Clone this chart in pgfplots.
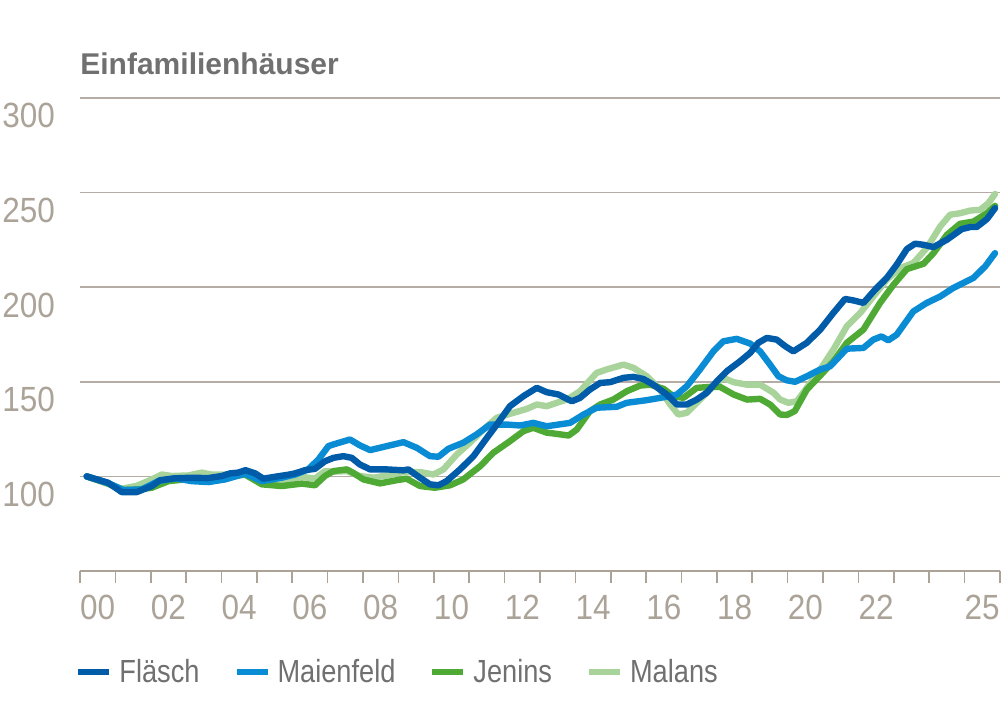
\documentclass[border=0pt]{standalone}
\usepackage{fontspec}
\setmainfont{Liberation Sans}
\newfontfamily\tickfont{Liberation Sans}[FakeStretch=0.9]
\newfontfamily\legfont{Liberation Sans}[FakeStretch=0.85]
\usepackage{pgfplots}
\pgfplotsset{compat=1.18}

\definecolor{flaesch}{HTML}{005BA8}
\definecolor{maienfeld}{HTML}{0A8CD4}
\definecolor{jenins}{HTML}{4EAA35}
\definecolor{malans}{HTML}{A8D49C}
\definecolor{gridc}{HTML}{B5ADA5}
\definecolor{tickc}{HTML}{ABA398}
\definecolor{textc}{HTML}{707070}

\begin{document}
\begin{tikzpicture}
\begin{axis}[
    scale only axis,
    width=460pt, height=236.5pt,
    xmin=2000, xmax=2026,
    ymin=50, ymax=300,
    axis x line*=bottom,
    axis y line*=left,
    x axis line style={-, draw=tickc, line width=1pt},
    y axis line style={draw=none},
    xtick={2000,...,2026},
    x tick label as interval,
    xticklabels={00,,02,,04,,06,,08,,10,,12,,14,,16,,18,,20,,22,,,25},
    tick align=outside,
    major tick length=6pt,
    x tick style={draw=tickc, line width=0.8pt},
    xticklabel style={font=\tickfont\fontsize{17.5}{20}\selectfont, text=tickc, anchor=north, inner sep=0pt, yshift=-6pt},
    ytick={100,150,200,250,300},
    ymajorgrids,
    grid style={draw=gridc, line width=0.7pt},
    y tick style={draw=none},
    /pgf/number format/assume math mode=true,
    yticklabel style={font=\tickfont\fontsize{17.5}{20}\selectfont, text=tickc, anchor=north west, inner sep=0pt, xshift=-33pt, yshift=-2.5pt},
    title={Einfamilienhäuser},
    title style={at={(0,1)}, anchor=base west, inner sep=0pt, yshift=5.5pt, font=\bfseries\fontsize{15}{18}\selectfont, text=textc},
    every axis plot/.append style={line width=3.2pt, line join=round, line cap=round},
    legend columns=4,
    reverse legend,
    legend style={at={(0,0)}, anchor=west, yshift=-50.5pt, xshift=-2.5pt, draw=none, fill=none, inner sep=0pt,
        font=\legfont\fontsize{16}{19}\selectfont, text=textc,
        /tikz/every odd column/.append style={column sep=3.5pt},
        /tikz/every even column/.append style={column sep=17pt},
        nodes={inner sep=0pt, outer sep=0pt, text=textc}},
    legend image code/.code={\draw[line width=3pt, line cap=butt] (0pt,0pt) -- (15.5pt,0pt);},
]
% Malans
\addplot[malans] coordinates {
(2000.19,100) (2000.79,96) (2001.18,93.5) (2001.60,95) (2002.03,98.4) (2002.31,101) (2002.60,100.2)
(2003.06,100.5) (2003.44,102) (2003.72,101) (2004.19,101) (2004.66,102.3) (2005.14,97.5) (2005.70,97.8)
(2006.27,99.8) (2006.64,98.8) (2006.92,102.8) (2007.16,102.5) (2007.54,102.8) (2007.91,100.2) (2008.29,99.3)
(2008.67,100.5) (2009.14,102.3) (2009.61,102.3) (2009.99,101) (2010.27,103.7) (2010.65,111.6) (2011.02,117.8)
(2011.40,124.8) (2011.78,131) (2012.25,133.6) (2012.63,135.7) (2012.91,138) (2013.19,137.1) (2013.52,139.2)
(2013.76,140.6) (2014.13,145) (2014.60,154.7) (2014.88,156.5) (2015.36,159.1) (2015.64,157.4) (2016.02,152.9)
(2016.39,145.9) (2016.68,138) (2016.91,132.7) (2017.15,133.6) (2017.52,140.6) (2017.90,147.7) (2018.18,152.1)
(2018.47,149.8) (2018.84,148.5) (2019.22,148.5) (2019.60,144.2) (2019.79,140.6) (2020.02,138.9) (2020.26,139.7)
(2020.54,146.8) (2020.92,156.5) (2021.29,167) (2021.67,179.3) (2022.05,186.4) (2022.42,195.1) (2022.80,204)
(2023.18,210.1) (2023.55,212.8) (2023.93,220.7) (2024.31,232.1) (2024.59,238.3) (2024.87,239.1) (2025.16,240.5)
(2025.44,240.9) (2025.67,244.4) (2025.86,249.3)
};
\addlegendentry{Malans}
% Jenins
\addplot[jenins] coordinates {
(2000.19,100) (2000.79,96.3) (2001.18,92.9) (2001.60,93) (2002.03,94) (2002.50,97.5) (2002.97,98.4)
(2003.40,98.5) (2003.90,98.8) (2004.30,100) (2004.66,101) (2005.14,95.8) (2005.70,94.9) (2006.27,96.2)
(2006.64,95.3) (2006.92,100.2) (2007.16,102.8) (2007.54,103.7) (2007.72,101.9) (2008.01,98.4) (2008.48,96.3)
(2008.95,98) (2009.23,98.8) (2009.61,94.9) (2010.03,94) (2010.46,95.3) (2010.83,98.4) (2011.31,105.4)
(2011.68,112.5) (2012.15,118.6) (2012.53,123.9) (2012.81,125.7) (2013.19,123.1) (2013.38,122.7) (2013.81,121.6)
(2014.04,124.8) (2014.41,134.5) (2014.70,138) (2015.07,140.6) (2015.45,145) (2015.83,148) (2016.11,148.5)
(2016.49,146.3) (2016.77,142.4) (2017.05,141.5) (2017.43,146.8) (2017.80,147.3) (2018.09,147.3) (2018.47,143.3)
(2018.85,140.6) (2019.22,141) (2019.50,138) (2019.79,132.7) (2019.98,132.5) (2020.20,134.5) (2020.54,145.9)
(2020.92,153.3) (2021.29,160.8) (2021.67,170.6) (2022.14,177.6) (2022.61,191.7) (2022.99,201.3) (2023.37,209.6)
(2023.84,212.4) (2024.12,218) (2024.50,227.7) (2024.87,233.5) (2025.25,234.7) (2025.63,239.1) (2025.86,243)
};
\addlegendentry{Jenins}
% Maienfeld
\addplot[maienfeld] coordinates {
(2000.19,100) (2000.79,96.5) (2001.23,92.8) (2001.74,93.1) (2002.21,97.5) (2002.69,99) (2003.16,97.5)
(2003.63,97) (2004.10,98.4) (2004.66,101.4) (2005.14,97.5) (2005.70,99.3) (2006.08,101) (2006.45,103.7)
(2006.74,109) (2007.02,116) (2007.16,116.9) (2007.63,119.5) (2007.91,116.4) (2008.20,113.9) (2008.67,116)
(2009.14,118.1) (2009.52,115.1) (2009.89,110.7) (2010.13,110.4) (2010.41,114.6) (2010.83,117.8) (2011.21,122.2)
(2011.59,127.4) (2012.06,127.4) (2012.44,126.9) (2012.81,128.3) (2013.19,126.5) (2013.85,128.3) (2014.23,132.7)
(2014.60,136.3) (2015.17,136.8) (2015.45,138.9) (2016.02,140.3) (2016.58,142.1) (2016.87,143.3) (2017.15,147.7)
(2017.52,156.5) (2017.90,166.1) (2018.18,171.4) (2018.56,172.7) (2018.94,170.2) (2019.22,166.1) (2019.50,159.1)
(2019.74,152.9) (2019.97,150.8) (2020.21,150) (2020.54,152.9) (2020.92,156.5) (2021.20,158.2) (2021.67,167.5)
(2022.14,167.9) (2022.42,172.3) (2022.65,174) (2022.84,171.9) (2023.08,174.9) (2023.55,187.2) (2023.93,191.7)
(2024.31,195.1) (2024.68,199.6) (2025.25,204.9) (2025.58,211) (2025.86,218)
};
\addlegendentry{Maienfeld}
% Flaesch
\addplot[flaesch] coordinates {
(2000.19,100) (2000.79,96.7) (2001.18,91.7) (2001.60,91.7) (2002.03,94.9) (2002.26,98) (2002.69,99)
(2003.16,99.3) (2003.62,99.1) (2004.01,100.2) (2004.24,101.6) (2004.47,102) (2004.68,103.3) (2004.95,101.6)
(2005.18,98.8) (2005.51,99.8) (2005.89,100.9) (2006.08,101.6) (2006.36,103.3) (2006.64,104) (2006.92,108)
(2007.16,109.8) (2007.44,110.7) (2007.68,109.8) (2007.91,106.3) (2008.20,103.7) (2008.67,103.7) (2009.14,103.2)
(2009.28,103.7) (2009.61,99.3) (2009.89,95.8) (2010.13,95.3) (2010.36,97.5) (2010.74,103.7) (2011.12,110.7)
(2011.50,120.4) (2011.78,127.4) (2012.15,137.1) (2012.53,142.4) (2012.91,146.8) (2013.19,144.5) (2013.52,143.3)
(2013.90,139.7) (2014.13,141.5) (2014.41,145.9) (2014.70,149.4) (2014.98,149.8) (2015.36,152.1) (2015.64,152.6)
(2015.92,151.5) (2016.20,148.5) (2016.58,143.3) (2016.87,138) (2017.15,138) (2017.43,140.6) (2017.71,144.2)
(2018.00,150.3) (2018.28,155.6) (2018.65,160.8) (2018.94,165.3) (2019.17,170.6) (2019.41,173.2) (2019.69,172.3)
(2019.93,168.8) (2020.16,166.1) (2020.54,170.6) (2020.92,177.6) (2021.29,186.4) (2021.62,193.8) (2021.86,193)
(2022.14,191.7) (2022.47,198.7) (2022.80,204.9) (2023.08,211.9) (2023.37,220.2) (2023.60,223) (2023.84,222.4)
(2024.12,221.2) (2024.50,225.1) (2024.92,230.7) (2025.16,231.8) (2025.34,231.8) (2025.63,236) (2025.86,241.8)
};
\addlegendentry{Fläsch}
\end{axis}
\pgfresetboundingbox
\path[use as bounding box] (-40pt,-73pt) rectangle (462pt,285.5pt);
\end{tikzpicture}
\end{document}
